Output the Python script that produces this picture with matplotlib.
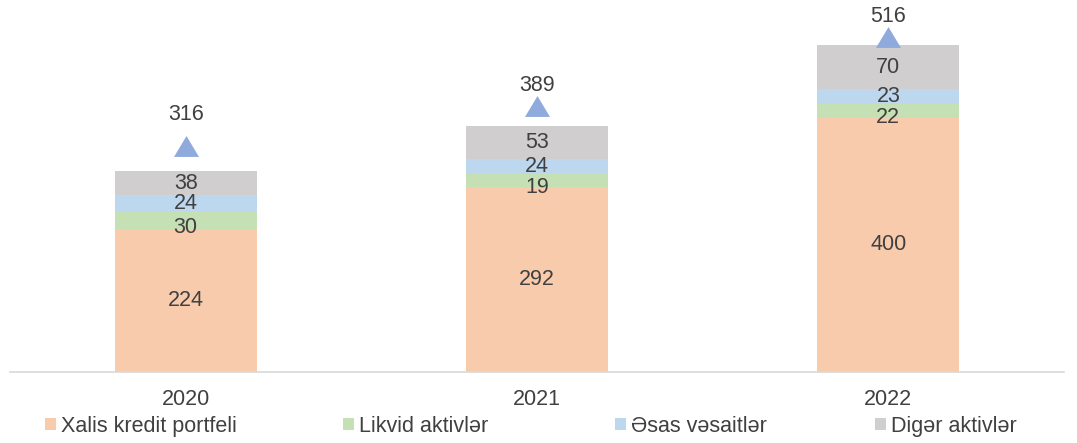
import numpy as np
import matplotlib
matplotlib.use("Agg")
import matplotlib.pyplot as plt

plt.rcParams['font.family'] = ['Liberation Sans', 'DejaVu Sans']

years = ['2020', '2021', '2022']
kredit = [224, 292, 400]
likvid = [30, 19, 22]
esas = [24, 24, 23]
diger = [38, 53, 70]
totals = [316, 389, 516]

series_names = ['Xalis kredit portfeli', 'Likvid aktivlər', 'Əsas vəsaitlər', 'Digər aktivlər']
colors = ['#F8CBAD', '#C5E0B4', '#BDD7EE', '#D0CECE']
label_shift = [0, -5, 0, 0]   # points, to keep the thin-segment labels apart
text_color = '#404040'
fs = 15.5

fig = plt.figure(figsize=(10.77, 4.43), dpi=100)
ax = fig.add_axes([10 / 1077, 71 / 443, 1054 / 1077, 362 / 443])

x = np.arange(len(years))
width = 0.405
bottom = np.zeros(len(years))
for name, vals, col, dy in zip(series_names, [kredit, likvid, esas, diger], colors, label_shift):
    ax.bar(x, vals, width, bottom=bottom, color=col, label=name, zorder=2)
    for xi, b, v in zip(x, bottom, vals):
        ax.annotate(str(v), (xi, b + v / 2), xytext=(0, dy), textcoords='offset points',
                    ha='center', va='center', fontsize=fs, color=text_color, zorder=3)
    bottom += np.array(vals)

ax.set_xlim(-0.5, 2.5)
ax.set_ylim(0, 570)
ax.set_xticks(x)
ax.set_xticklabels(years, fontsize=fs, color=text_color)
ax.tick_params(axis='x', length=0, pad=12)
ax.set_yticks([])
for s in ['top', 'right', 'left']:
    ax.spines[s].set_visible(False)
ax.spines['bottom'].set_color('#D9D9D9')
ax.spines['bottom'].set_linewidth(1.2)

# totals marked on a secondary scale
ax2 = ax.twinx()
ax2.set_ylim(-98.7, 565.5)
tri = [(-1.2, -1), (1.2, -1), (0, 1)]
ax2.plot(x, totals, linestyle='none', marker=tri, markersize=18,
         color='#8FAADC', markeredgewidth=0, zorder=4)
for xi, t, off in zip(x, totals, [15, 7, 7]):
    ax2.annotate(str(t), (xi, t), xytext=(0, off), textcoords='offset points',
                 ha='center', va='bottom', fontsize=fs, color=text_color)
ax2.set_yticks([])
ax2.set_xlim(-0.5, 2.5)
for s in ax2.spines.values():
    s.set_visible(False)

handles, labels = ax.get_legend_handles_labels()
for h, lab, px in zip(handles, labels, [45, 343, 615, 875]):
    fig.legend([h], [lab], loc='lower left', bbox_to_anchor=(px / 1077, 6 / 443),
               frameon=False, fontsize=fs, handlelength=0.5, handleheight=0.5,
               handletextpad=0.25, borderpad=0, borderaxespad=0,
               labelcolor=text_color)

fig.savefig('out.png', dpi=100)
